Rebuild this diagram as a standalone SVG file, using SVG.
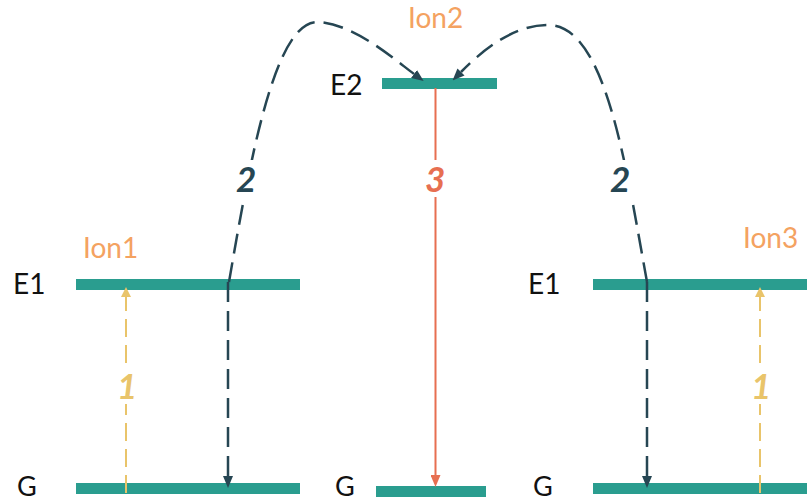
<svg xmlns="http://www.w3.org/2000/svg" width="807" height="503" viewBox="0 0 807 503">
<style>
.bar{fill:#2a9d8f}
.lvl{font-family:Lato,"Liberation Sans",sans-serif;font-size:28px;fill:#111}
.g{font-size:27px}
.ion{font-family:Lato,"Liberation Sans",sans-serif;font-size:28px;fill:#f4a261}
.num{font-family:Lato,"Liberation Sans",sans-serif;font-size:35px;font-weight:bold;font-style:italic}
.bg{fill:#fff}
.dk{fill:none;stroke:#264653;stroke-width:2.5;stroke-dasharray:20 9}
.yl{fill:none;stroke:#e9c46a;stroke-width:2;stroke-dasharray:18 8}
.rd{fill:none;stroke:#e76f51;stroke-width:2}
</style>
<defs>
<marker id="ad" viewBox="0 0 12 10" refX="0" refY="5" markerWidth="12" markerHeight="10" markerUnits="userSpaceOnUse" orient="auto"><path d="M0,0 L12,5 L0,10 z" fill="#264653"/></marker>
<marker id="ar" viewBox="0 0 12 10" refX="0" refY="5" markerWidth="12" markerHeight="10" markerUnits="userSpaceOnUse" orient="auto"><path d="M0,0 L12,5 L0,10 z" fill="#e76f51"/></marker>
<marker id="ay" viewBox="0 0 10 10" refX="0" refY="5" markerWidth="10" markerHeight="10" markerUnits="userSpaceOnUse" orient="auto"><path d="M0,0 L10,5 L0,10 z" fill="#e9c46a"/></marker>
</defs>
<g id="ion1">
<text class="ion" x="83" y="258">Ion1</text>
<text class="lvl" x="13" y="294">E1</text>
<rect class="bar" x="76" y="279" width="224" height="11"/>
<text class="lvl g" x="17" y="496">G</text>
<rect class="bar" x="76" y="483" width="224" height="11"/>
</g>
<g id="ion2">
<text class="ion" x="408" y="28">Ion2</text>
<text class="lvl" x="330" y="95">E2</text>
<rect class="bar" x="382" y="78" width="115" height="11"/>
<text class="lvl g" x="335" y="496">G</text>
<rect class="bar" x="376" y="486" width="110" height="11"/>
</g>
<g id="ion3">
<text class="ion" x="743" y="248">Ion3</text>
<text class="lvl" x="528" y="294">E1</text>
<rect class="bar" x="593" y="279" width="214" height="11"/>
<text class="lvl g" x="533" y="496">G</text>
<rect class="bar" x="593" y="483" width="214" height="11"/>
</g>
<g id="connectors">
<path class="yl" d="M126,493 L126,297" marker-end="url(#ay)"/>
<path class="yl" d="M760,493 L760,297" marker-end="url(#ay)"/>
<path class="dk" d="M228,282 L228,476" marker-end="url(#ad)"/>
<path class="dk" d="M647,282 L647,476" marker-end="url(#ad)"/>
<path class="rd" d="M435.5,88 L435.5,475" marker-end="url(#ar)"/>
<path class="dk" d="M229,282 C250,160 275,20 318,22 C355,24 395,60 414,74" marker-end="url(#ad)"/>
<path class="dk" d="M647,282 C625,160 605,25 548,25 C510,25 478,55 461,72" marker-end="url(#ad)"/>
<rect class="bg" x="233" y="160" width="27" height="37"/>
<text class="num" x="236" y="192" fill="#264653">2</text>
<rect class="bg" x="607" y="160" width="27" height="37"/>
<text class="num" x="610" y="192" fill="#264653">2</text>
<rect class="bg" x="424" y="160" width="24" height="37"/>
<text class="num" x="425" y="192" fill="#e76f51">3</text>
<rect class="bg" x="116" y="368" width="20" height="36"/>
<text class="num" x="117" y="399" fill="#e9c46a">1</text>
<rect class="bg" x="750" y="368" width="20" height="36"/>
<text class="num" x="751" y="399" fill="#e9c46a">1</text>
</g>
</svg>
